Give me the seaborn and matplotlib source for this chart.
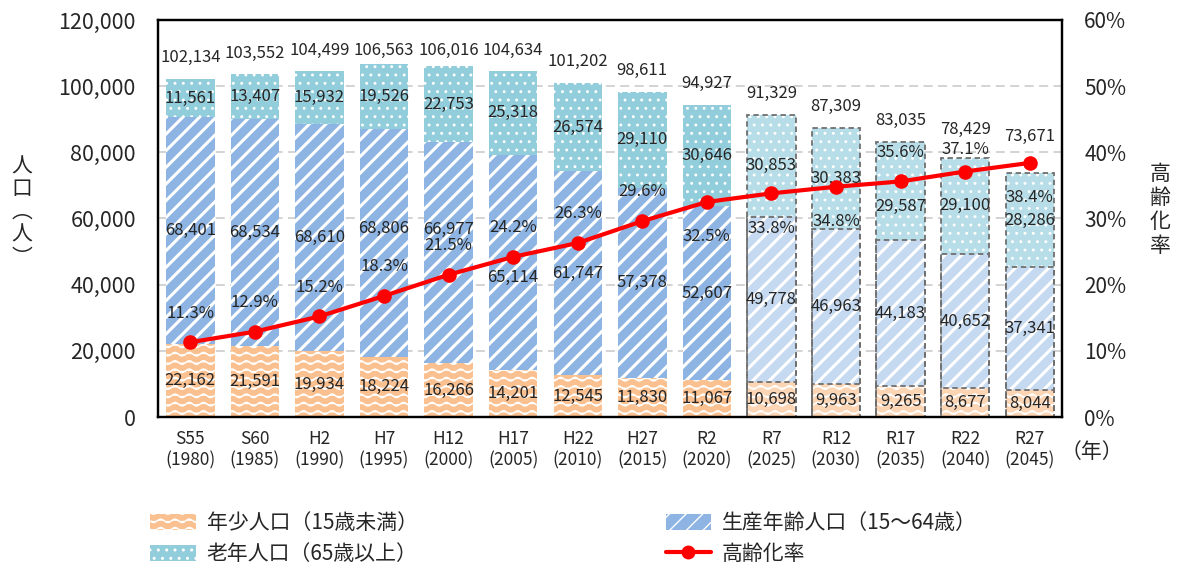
import numpy as np
import pandas as pd
import matplotlib
matplotlib.use('Agg')
import matplotlib as mpl
import matplotlib.pyplot as plt
from matplotlib import hatch as mhatch
from matplotlib.path import Path
from matplotlib.patches import Patch
from matplotlib.lines import Line2D
import seaborn as sns

# --- data ---
years = ['S55\n(1980)', 'S60\n(1985)', 'H2\n(1990)', 'H7\n(1995)', 'H12\n(2000)',
         'H17\n(2005)', 'H22\n(2010)', 'H27\n(2015)', 'R2\n(2020)', 'R7\n(2025)',
         'R12\n(2030)', 'R17\n(2035)', 'R22\n(2040)', 'R27\n(2045)']
young = [22162, 21591, 19934, 18224, 16266, 14201, 12545, 11830, 11067,
         10698, 9963, 9265, 8677, 8044]
working = [68401, 68534, 68610, 68806, 66977, 65114, 61747, 57378, 52607,
           49778, 46963, 44183, 40652, 37341]
elderly = [11561, 13407, 15932, 19526, 22753, 25318, 26574, 29110, 30646,
           30853, 30383, 29587, 29100, 28286]
totals = [102134, 103552, 104499, 106563, 106016, 104634, 101202, 98611, 94927,
          91329, 87309, 83035, 78429, 73671]
aging_rate = [11.3, 12.9, 15.2, 18.3, 21.5, 24.2, 26.3, 29.6, 32.5,
              33.8, 34.8, 35.6, 37.1, 38.4]
n_census = 9  # from R7 on the values are projections

legend_labels = ['年少人口（15歳未満）', '生産年齢人口（15～64歳）',
                 '老年人口（65歳以上）', '高齢化率']


# matplotlib has no wavy hatch, so the '-' hatch is swapped for a wavy one
class WavyHatch(mhatch.HatchPatternBase):
    n_pts = 57

    def __init__(self, hatch, density):
        self.num_lines = int((hatch.count('-') + hatch.count('+')) * density)
        self.num_vertices = self.num_lines * self.n_pts

    def set_vertices_and_codes(self, vertices, codes):
        steps, stepsize = np.linspace(0.0, 1.0, self.num_lines, False, retstep=True)
        steps += stepsize / 2.
        t = np.linspace(0.0, 1.0, self.n_pts)
        for i, s in enumerate(steps):
            sl = slice(i * self.n_pts, (i + 1) * self.n_pts)
            vertices[sl, 0] = t
            vertices[sl, 1] = s + 0.018 * np.sin(2 * np.pi * 7 * t)
            codes[sl] = Path.LINETO
            codes[i * self.n_pts] = Path.MOVETO


mhatch._hatch_types[0] = WavyHatch

sns.set_style('white')
plt.rcParams['font.family'] = ['Noto Sans CJK JP', 'DejaVu Sans']

df = pd.DataFrame({'year': years, 'young': young, 'working': working,
                   'elderly': elderly, 'total': totals, 'rate': aging_rate})
df['mid'] = df['young'] + df['working']
df['top'] = df['mid'] + df['elderly']
proj = np.arange(len(df)) >= n_census

fig = plt.figure(figsize=(11.78, 5.69), dpi=100)
ax = fig.add_axes([158 / 1178, 1 - 417 / 569, (1062 - 158) / 1178, (417 - 20) / 569])

# (column, census colour, projection colour, hatch, hatch linewidth)
layers = [
    ('top', '#92CDDC', '#B7DEE8', '..', 0.9),
    ('mid', '#8DB4E2', '#C5D9F1', '//', 2.2),
    ('young', '#FAC08F', '#FCD5B4', '--', 1.1),
]
for col, c_act, c_proj, hatch, hlw in layers:
    with mpl.rc_context({'hatch.linewidth': hlw}):
        sns.barplot(data=df, x='year', y=col, order=years, color=c_act,
                    width=0.75, errorbar=None, saturation=1, ax=ax, zorder=2)
    for p, is_proj in zip(ax.containers[-1].patches, proj):
        p.set_facecolor(c_proj if is_proj else c_act)
        p.set_edgecolor('white')  # also makes the hatch white
        p.set_linewidth(0)
        p.set_hatch(hatch)
        if hasattr(p, 'set_hatch_linewidth'):
            p.set_hatch_linewidth(hlw)

# dashed outlines for the projected bars
for col in ['top', 'mid', 'young']:
    sns.barplot(data=df[proj], x='year', y=col, order=years, fill=False,
                color='#6F6F6F', width=0.75, errorbar=None, linewidth=1.3,
                linestyle=(0, (3, 2)), ax=ax, zorder=3)

ax.set_ylim(0, 120000)
ax.set_yticks(np.arange(0, 120001, 20000))
ax.set_yticklabels([f'{v:,}' for v in range(0, 120001, 20000)], fontsize=15.5)
ax.set_xlim(-0.5, len(years) - 0.5)
ax.set_xticks(range(len(years)))
ax.set_xticklabels(years, fontsize=12.5, linespacing=1.3)
ax.set_xlabel('')
ax.set_ylabel('')
ax.tick_params(axis='both', length=0)
ax.tick_params(axis='y', pad=16)
ax.tick_params(axis='x', pad=9)
ax.yaxis.grid(True, color='#D0D0D0', linestyle=(0, (5, 3)), linewidth=1.3)
ax.set_axisbelow(True)
for s in ax.spines.values():
    s.set_visible(True)
    s.set_color('black')
    s.set_linewidth(1.6)

# pct labels sit below the marker for these points
below = {8, 9, 10, 13}
# small hand nudges of a few labels, to keep them clear of the red line
working_nudge = {3: 4500, 4: 7000, 5: -4500}
elderly_nudge = {11: -4500}

lab_kw = dict(ha='center', va='center', fontsize=12, zorder=6)
for i, r in df.iterrows():
    ax.text(i, r['young'] / 2, f"{r['young']:,}", **lab_kw)
    ax.text(i, r['young'] + r['working'] / 2 + working_nudge.get(i, 0),
            f"{r['working']:,}", **lab_kw)
    ax.text(i, r['mid'] + r['elderly'] / 2 + elderly_nudge.get(i, 0),
            f"{r['elderly']:,}", **lab_kw)
    clear = r['rate'] * 2000 + (8000 if i in below else 12800)
    ty = min(max(r['top'] + 6500, clear), 110800)
    ax.text(i, ty, f"{r['total']:,}", **lab_kw)

# ageing rate on the right axis
ax2 = ax.twinx()
sns.lineplot(x=np.arange(len(df)), y=df['rate'], color='#FF0000', linewidth=3,
             marker='o', markersize=10.5, markeredgewidth=0, ax=ax2, zorder=5)
ax2.set_ylim(0, 60)
ax2.set_yticks(np.arange(0, 61, 10))
ax2.set_yticklabels([f'{v}%' for v in range(0, 61, 10)], fontsize=15)
ax2.tick_params(axis='y', length=0, pad=16)
ax2.set_ylabel('')
ax2.grid(False)
for s in ax2.spines.values():
    s.set_color('black')
    s.set_linewidth(1.6)

for i, v in enumerate(aging_rate):
    dy = -25 if i in below else 21
    if i == 12:
        dy = 16
    ax2.annotate(f'{v}%', (i, v), xytext=(0, dy), textcoords='offset points',
                 ha='center', va='center', fontsize=12, zorder=6)

# axis titles written vertically
fig.text(22 / 1178, 1 - 212 / 569, '人\n口\n︵\n人\n︶', ha='center', va='center',
         fontsize=15, linespacing=1.05)
fig.text(1160 / 1178, 1 - 210 / 569, '高\n齢\n化\n率', ha='center', va='center',
         fontsize=15, linespacing=1.1)
fig.text(1092 / 1178, 1 - 452 / 569, '（年）', ha='center', va='center', fontsize=15)

# legend
handles = []
for col, c_act, c_proj, hatch, hlw in [layers[2], layers[1], layers[0]]:
    with mpl.rc_context({'hatch.linewidth': hlw}):
        h = Patch(facecolor=c_act, edgecolor='white', linewidth=0, hatch=hatch)
    handles.append(h)
line_h = Line2D([], [], color='#FF0000', linewidth=3, marker='o', markersize=10,
                markeredgewidth=0)
# column-wise order: young, elderly | working, rate
leg = fig.legend([handles[0], handles[2], handles[1], line_h],
                 [legend_labels[0], legend_labels[2], legend_labels[1], legend_labels[3]],
                 ncol=2, loc='upper left', bbox_to_anchor=(142 / 1178, 1 - 504 / 569),
                 frameon=False, fontsize=15, handlelength=2.2, handleheight=0.8,
                 handletextpad=0.5, columnspacing=11.9, labelspacing=0.42,
                 borderaxespad=0)

fig.savefig('out.png', dpi=100)
